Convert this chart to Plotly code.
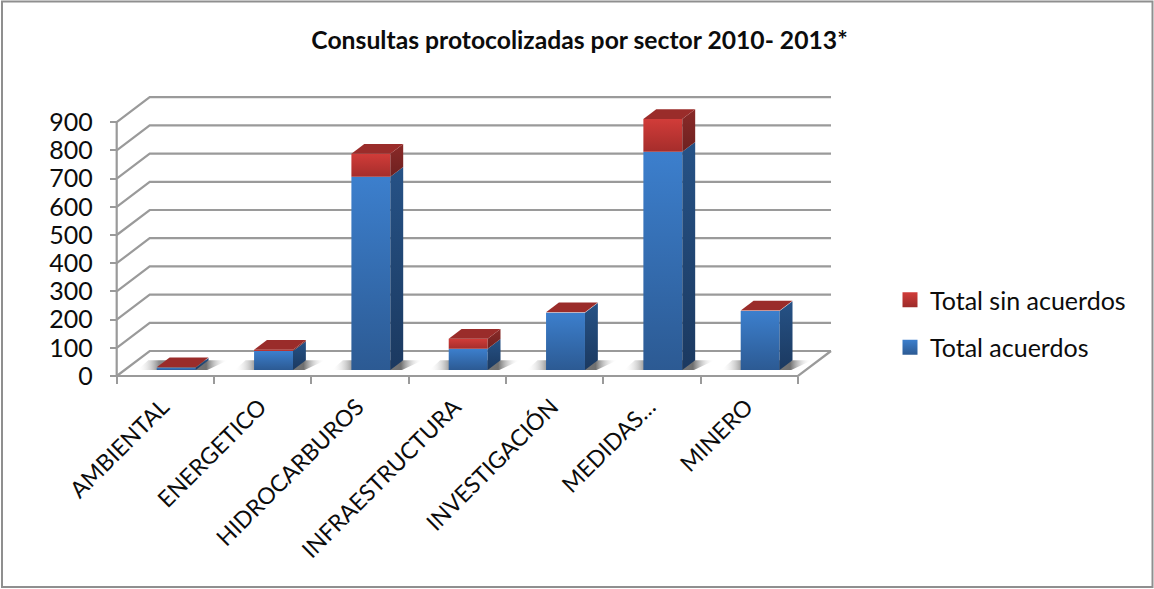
import plotly.graph_objects as go

# Consultas protocolizadas por sector, drawn as oblique 3D stacked columns.
categories = ["AMBIENTAL", "ENERGETICO", "HIDROCARBUROS", "INFRAESTRUCTURA",
              "INVESTIGACIÓN", "MEDIDAS…", "MINERO"]
total_acuerdos = [8, 67, 685, 75, 203, 774, 209]
total_sin_acuerdos = [2, 5, 82, 36, 2, 116, 2]
y_ticks = [0, 100, 200, 300, 400, 500, 600, 700, 800, 900]

W, H = 1154, 589
FONT = "Lato"
TEXT = "#0c0c0c"
GRID = "#9a9a9a"

# Front plane of the plot in page pixels.
X0, X1, Y0, Y900 = 116.7, 798.0, 376.0, 122.2
PX_PER_CAT = (X1 - X0) / len(categories)
PX_PER_VAL = (Y0 - Y900) / 900

# Drawing area: larger than the front plane so walls and column depth stay visible.
AREA_L, AREA_R, AREA_T, AREA_B = 110.0, 840.0, 88.0, 382.0
x_range = [-0.5 - (X0 - AREA_L) / PX_PER_CAT, -0.5 + (AREA_R - X0) / PX_PER_CAT]
y_range = [-(AREA_B - Y0) / PX_PER_VAL, (Y0 - AREA_T) / PX_PER_VAL]

# Oblique projection: depth 0 is the front plane, depth 1 the back wall.
DEPTH_DX = 33 / PX_PER_CAT
DEPTH_DY = 25 / PX_PER_VAL


def project(x, v, d):
    return x + d * DEPTH_DX, v + d * DEPTH_DY


BAR_W = 0.40
BAR_D0, BAR_D1 = 0.24, 0.63
BAR_SHIFT = 0.03
LABEL_SHIFT = -0.03

fig = go.Figure()


def face(points, stops, direction="vertical"):
    xs = [p[0] for p in points] + [points[0][0]]
    ys = [p[1] for p in points] + [points[0][1]]
    fig.add_trace(go.Scatter(
        x=xs, y=ys, mode="lines", line=dict(width=0),
        fill="toself", hoverinfo="skip", showlegend=False,
        fillgradient=dict(type=direction, colorscale=stops),
    ))


# Wall and floor gridlines, plus the two front axis lines
gx, gy = [], []
for v in y_ticks:
    for (x, d) in [(-0.5, 0), (-0.5, 1), (6.5, 1)]:
        px, py = project(x, v, d)
        gx.append(px)
        gy.append(py)
    gx.append(None)
    gy.append(None)
for (x, d) in [(6.5, 1), (6.5, 0), (-0.5, 0)]:
    px, py = project(x, 0, d)
    gx.append(px)
    gy.append(py)
gx.append(None)
gy.append(None)
for v in (0, y_ticks[-1]):
    px, py = project(-0.5, v, 0)
    gx.append(px)
    gy.append(py)
fig.add_trace(go.Scatter(x=gx, y=gy, mode="lines",
                         line=dict(color=GRID, width=2.2),
                         hoverinfo="skip", showlegend=False))

# Soft floor shadows under each column
for i in range(len(categories)):
    cx = i + BAR_SHIFT
    left, right = cx - BAR_W / 2, cx + BAR_W / 2
    p0 = project(left - 0.2, 0, BAR_D0)
    p1 = project(right + 0.12, 0, BAR_D0)
    p2 = project(right + 0.2, 0, BAR_D1)
    p3 = project(left - 0.22, 0, BAR_D1)
    face([p0, p1, p2, p3],
         [[0, "rgba(255,255,255,0)"], [0.24, "#8c8c8c"], [0.76, "#707070"],
          [1, "rgba(255,255,255,0)"]], "horizontal")

# Columns: front, side and top faces of each stacked segment
BLUE_FRONT = [[0, "#2c5a93"], [1, "#3c7fcd"]]
BLUE_SIDE = [[0, "#1b3960"], [1, "#265286"]]
RED_FRONT = [[0, "#a52d2b"], [1, "#d13c39"]]
RED_SIDE = [[0, "#6e2120"], [1, "#8a2a28"]]
RED_TOP = [[0, "#9a2c2a"], [1, "#9a2c2a"]]

for i, (blue, red) in enumerate(zip(total_acuerdos, total_sin_acuerdos)):
    cx = i + BAR_SHIFT
    left, right = cx - BAR_W / 2, cx + BAR_W / 2
    for lo, hi, front, side in [(0, blue, BLUE_FRONT, BLUE_SIDE),
                                (blue, blue + red, RED_FRONT, RED_SIDE)]:
        face([project(left, lo, BAR_D0), project(right, lo, BAR_D0),
              project(right, hi, BAR_D0), project(left, hi, BAR_D0)], front)
        face([project(right, lo, BAR_D0), project(right, lo, BAR_D1),
              project(right, hi, BAR_D1), project(right, hi, BAR_D0)], side)
    top = blue + red
    face([project(left, top, BAR_D0), project(right, top, BAR_D0),
          project(right, top, BAR_D1), project(left, top, BAR_D1)], RED_TOP)

# Legend swatches
for name, col, dark in [("Total sin acuerdos", "#d13c39", "#9c2b29"),
                        ("Total acuerdos", "#3c7fcd", "#2c5a93")]:
    fig.add_trace(go.Scatter(
        x=[None], y=[None], mode="markers", name=name, legendgroup=name,
        marker=dict(symbol="square", size=15, color=col, line=dict(width=0),
                    gradient=dict(type="vertical", color=dark)),
    ))

fig.add_shape(type="rect", xref="paper", yref="paper",
              x0=2 / W, x1=(W - 1.5) / W, y0=1 - 587 / H, y1=1 - 1.5 / H,
              line=dict(color="#8f8f8f", width=2), layer="below")

fig.update_layout(
    template="none",
    width=W, height=H, margin=dict(l=0, r=0, t=0, b=0, autoexpand=False),
    paper_bgcolor="white", plot_bgcolor="white",
    font=dict(family=FONT, color=TEXT),
    title=dict(text="<b>Consultas protocolizadas por sector 2010- 2013*</b>",
               x=579.5 / W, xanchor="center", y=1 - 40 / H, yanchor="middle",
               font=dict(family=FONT, size=24.7, color=TEXT)),
    xaxis=dict(domain=[AREA_L / W, AREA_R / W], range=x_range,
               anchor="free", position=1 - Y0 / H,
               tickmode="array", tickvals=[i + LABEL_SHIFT for i in range(len(categories))],
               ticktext=categories, ticks="", automargin=False,
               minor=dict(tickmode="array",
                          tickvals=[i - 0.5 for i in range(len(categories) + 1)],
                          ticks="outside", ticklen=7, tickwidth=2, tickcolor=GRID,
                          showgrid=False),
               showline=False, showgrid=False,
               tickangle=-45, tickfont=dict(size=23, family=FONT, color=TEXT),
               ticklabelstandoff=12, zeroline=False),
    yaxis=dict(domain=[1 - AREA_B / H, 1 - AREA_T / H], range=y_range, tickvals=y_ticks,
               anchor="free", position=X0 / W,
               ticks="outside", ticklen=7, tickwidth=2, tickcolor=GRID, automargin=False,
               showline=False, showgrid=False,
               tickfont=dict(size=25, family=FONT, color=TEXT),
               ticklabelstandoff=12, zeroline=False),
    legend=dict(x=890 / W, y=1 - 277 / H, xanchor="left", yanchor="top",
                bgcolor="rgba(0,0,0,0)", tracegroupgap=12,
                font=dict(size=25, family=FONT, color=TEXT)),
)

fig.write_html("out.html")
